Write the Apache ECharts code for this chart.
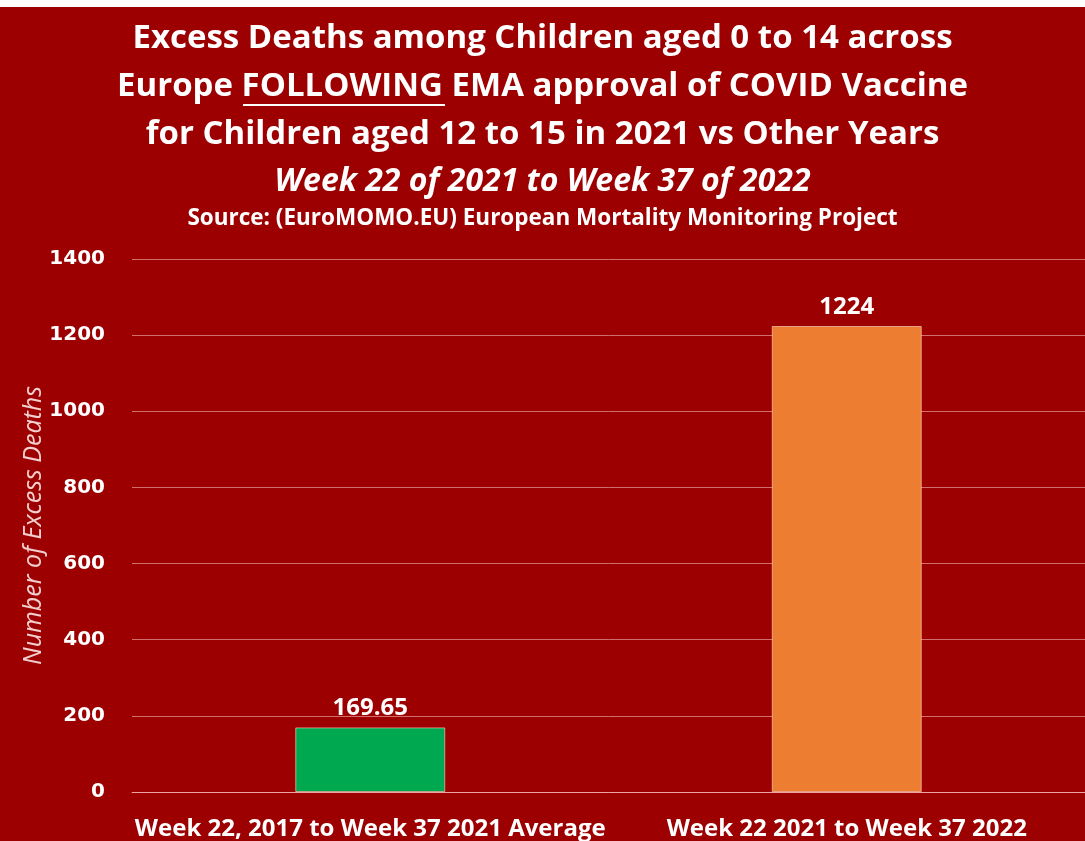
<!DOCTYPE html>
<html><head><meta charset="utf-8">
<script src="https://cdn.jsdelivr.net/npm/echarts@6/dist/echarts.min.js"></script>
<style>html,body{margin:0;padding:0;background:#fff}#c{width:1085px;height:841px}</style>
</head><body><div id="c"></div>
<script>
const categories = ["Week 22, 2017 to Week 37 2021 Average", "Week 22 2021 to Week 37 2022"];
const values = [169.65, 1224];
const barColors = ["#00a84f", "#ed7d31"];
const yTicks = [0, 200, 400, 600, 800, 1000, 1200, 1400];
const titleLines = ["Excess Deaths among Children aged 0 to 14 across", "Europe FOLLOWING EMA approval of COVID Vaccine", "for Children aged 12 to 15 in 2021 vs Other Years"];
const subtitle = "Week 22 of 2021 to Week 37 of 2022";
const source = "Source: (EuroMOMO.EU) European Mortality Monitoring Project";
const yName = "Number of Excess Deaths";

const FONT = '"Open Sans", sans-serif';
const chart = echarts.init(document.getElementById('c'));
chart.setOption({
  backgroundColor: '#fff',
  graphic: [
    {type:'rect', shape:{x:0,y:7,width:1085,height:834}, style:{fill:'#9c0000'}, z:-10},
    {type:'text', left:'center', top:22, style:{text:titleLines[0], fill:'#fff', font:'bold 33px '+FONT}},
    {type:'text', left:'center', top:70, style:{text:titleLines[1], fill:'#fff', font:'bold 33px '+FONT}},
    {type:'text', left:'center', top:118, style:{text:titleLines[2], fill:'#fff', font:'bold 33px '+FONT}},
    {type:'text', left:'center', top:166, style:{text:subtitle, fill:'#fff', font:'italic bold 32px '+FONT}},
    {type:'text', left:'center', top:207, style:{text:source, fill:'#fff', font:'bold 22.5px '+FONT}},
    {type:'rect', shape:{x:243,y:104,width:202,height:2}, style:{fill:'#fff'}}
  ],
  grid: {left:132, top:259, width:954, bottom:49, containLabel:false},
  xAxis: {
    type:'category', data:categories,
    axisLine:{lineStyle:{color:'rgba(255,200,200,0.6)'}}, axisTick:{show:false},
    axisLabel:{color:'#fff', fontFamily:FONT, fontWeight:'bold', fontSize:24, margin:25, interval:0}
  },
  yAxis: {
    type:'value', min:0, max:1400, interval:200,
    name:yName, nameLocation:'middle', nameGap:86, nameRotate:90, nameMoveOverlap:false,
    nameTextStyle:{color:'#f3d0d0', fontFamily:FONT, fontStyle:'italic', fontSize:25},
    axisLine:{show:false}, axisTick:{show:false},
    axisLabel:{color:'#fff', fontFamily:'"DejaVu Sans", sans-serif', fontWeight:'bold', fontSize:20, margin:27,
      formatter: v => String(v)},
    splitLine:{lineStyle:{color:'rgba(255,200,200,0.55)', width:1}}
  },
  series: [{
    type:'bar', barWidth:150,
    data: values.map((v,i)=>({value:v, itemStyle:{color:barColors[i], borderColor:'rgba(255,220,200,0.6)', borderWidth:1}})),
    label:{show:true, position:'top', color:'#fff', fontFamily:FONT, fontWeight:'bold', fontSize:24, distance:7}
  }]
});
</script></body></html>
